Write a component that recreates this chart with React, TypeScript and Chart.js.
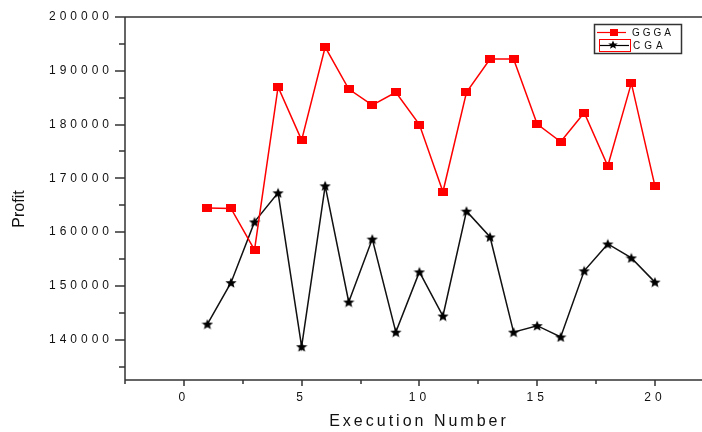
import React, { useEffect, useRef } from "react";
import { Chart, registerables } from "chart.js";

Chart.register(...registerables);

// ---- data ----
const executions = [1, 2, 3, 4, 5, 6, 7, 8, 9, 10, 11, 12, 13, 14, 15, 16, 17, 18, 19, 20];
const gggaProfit = [164500, 164400, 156700, 187000, 177100, 194400, 186600, 183600, 186000, 180000,
  167500, 186000, 192200, 192200, 180100, 176800, 182200, 172300, 187700, 168600];
const cgaProfit = [142900, 150600, 161900, 167300, 138700, 168600, 147000, 158700, 141400, 152600,
  144400, 163900, 159100, 141400, 142600, 140500, 152800, 157800, 155200, 150700];
const seriesNames = ["GGGA", "CGA"];
const xMajorTicks = [0, 5, 10, 15, 20];
const xMinorTicks = [-2.5, 2.5, 7.5, 12.5, 17.5];
const yMajorTicks = [140000, 150000, 160000, 170000, 180000, 190000, 200000];
const yMinorTicks = [135000, 145000, 155000, 165000, 175000, 185000, 195000];
const xTitle = "Execution Number";
const yTitle = "Profit";

function makeRect(w: number, h: number, color: string) {
  const c = document.createElement("canvas");
  c.width = w;
  c.height = h;
  const g = c.getContext("2d")!;
  g.fillStyle = color;
  g.fillRect(0, 0, w, h);
  return c;
}

function makeStar(w: number, h: number, color: string) {
  const c = document.createElement("canvas");
  c.width = w;
  c.height = h;
  const g = c.getContext("2d")!;
  const cx = w / 2, cy = h / 2 + 0.5;
  const ro = h / 2, ri = h / 4.6;
  const sx = w / h;
  g.fillStyle = color;
  g.beginPath();
  for (let i = 0; i < 10; i++) {
    const r = i % 2 === 0 ? ro : ri;
    const a = -Math.PI / 2 + (i * Math.PI) / 5;
    const px = cx + Math.cos(a) * r * sx;
    const py = cy + Math.sin(a) * r;
    if (i === 0) g.moveTo(px, py);
    else g.lineTo(px, py);
  }
  g.closePath();
  g.fill();
  return c;
}

const FONT = "'Liberation Sans', Arial, sans-serif";

export default function App() {
  const ref = useRef<HTMLCanvasElement | null>(null);

  useEffect(() => {
    if (!ref.current) return;
    const rectImg = makeRect(10, 8, "#ff0000");
    const starImg = makeStar(12, 11, "#000000");
    const legendRect = makeRect(8, 7, "#ff0000");
    const legendStar = makeStar(10, 9, "#000000");

    const originPlugin = {
      id: "originAxes",
      beforeDraw(chart: any) {
        chart.ctx.letterSpacing = "4px";
      },
      afterDraw(chart: any) {
        const { ctx, chartArea: ca } = chart;
        const xs = chart.scales.x;
        const ys = chart.scales.y;
        ctx.save();
        ctx.letterSpacing = "0px";
        ctx.strokeStyle = "#333";
        ctx.lineWidth = 1.5;
        ctx.beginPath();
        ctx.moveTo(ca.left, ca.top);
        ctx.lineTo(ca.left, ca.bottom);
        ctx.lineTo(ca.right, ca.bottom);
        ctx.moveTo(ca.left - 10, ca.top);
        ctx.lineTo(ca.right, ca.top);
        yMajorTicks.forEach((v) => {
          const p = Math.round(ys.getPixelForValue(v));
          ctx.moveTo(ca.left - 10, p);
          ctx.lineTo(ca.left, p);
        });
        yMinorTicks.forEach((v) => {
          const p = Math.round(ys.getPixelForValue(v));
          ctx.moveTo(ca.left - 6, p);
          ctx.lineTo(ca.left, p);
        });
        xMajorTicks.forEach((v) => {
          const p = Math.round(xs.getPixelForValue(v));
          ctx.moveTo(p, ca.bottom);
          ctx.lineTo(p, ca.bottom + 6);
        });
        xMinorTicks.forEach((v) => {
          const p = Math.round(xs.getPixelForValue(v));
          ctx.moveTo(p, ca.bottom);
          ctx.lineTo(p, ca.bottom + 4);
        });
        ctx.stroke();

        // axis titles
        ctx.fillStyle = "#111";
        ctx.font = `16px ${FONT}`;
        ctx.textAlign = "center";
        ctx.textBaseline = "middle";
        ctx.letterSpacing = "3px";
        ctx.fillText(xTitle, 419, 422);
        ctx.letterSpacing = "0px";
        ctx.save();
        ctx.translate(20, 209);
        ctx.rotate(-Math.PI / 2);
        ctx.fillText(yTitle, 0, 0);
        ctx.restore();

        // legend
        ctx.strokeStyle = "#333";
        ctx.lineWidth = 1.5;
        ctx.strokeRect(594.5, 24.5, 87, 29);
        ctx.strokeStyle = "#ff0000";
        ctx.lineWidth = 1.2;
        ctx.beginPath();
        ctx.moveTo(597, 32.5);
        ctx.lineTo(626, 32.5);
        ctx.stroke();
        ctx.drawImage(legendRect, 610, 29);
        ctx.strokeStyle = "#000";
        ctx.beginPath();
        ctx.moveTo(599, 45.5);
        ctx.lineTo(629, 45.5);
        ctx.stroke();
        ctx.drawImage(legendStar, 608, 40);
        ctx.strokeStyle = "#ff0000";
        ctx.lineWidth = 1;
        ctx.strokeRect(599.5, 39.5, 31, 12);
        ctx.fillStyle = "#111";
        ctx.font = `10px ${FONT}`;
        ctx.textAlign = "left";
        ctx.textBaseline = "middle";
        ctx.letterSpacing = "3px";
        ctx.fillText(seriesNames[0], 632, 33);
        ctx.letterSpacing = "4px";
        ctx.fillText(seriesNames[1], 633, 46);
        ctx.restore();
      },
    };

    const chart = new Chart(ref.current, {
      type: "line",
      data: {
        datasets: [
          {
            label: seriesNames[0],
            data: executions.map((e, i) => ({ x: e, y: gggaProfit[i] })),
            borderColor: "#ff0000",
            backgroundColor: "#ff0000",
            borderWidth: 1.5,
            pointStyle: rectImg as any,
            pointRadius: 5,
            tension: 0,
          },
          {
            label: seriesNames[1],
            data: executions.map((e, i) => ({ x: e, y: cgaProfit[i] })),
            borderColor: "#111",
            backgroundColor: "#000",
            borderWidth: 1.5,
            pointStyle: starImg as any,
            pointRadius: 5,
            tension: 0,
          },
        ],
      },
      options: {
        animation: false,
        responsive: false,
        devicePixelRatio: 1,
        layout: { autoPadding: false, padding: { top: 17, right: 0, bottom: 0, left: 0 } },
        plugins: { legend: { display: false }, tooltip: { enabled: false } },
        scales: {
          x: {
            type: "linear",
            position: "bottom",
            min: -2.5,
            max: 22,
            grid: { display: false, drawTicks: false },
            border: { display: false },
            afterBuildTicks: (s: any) => {
              s.ticks = xMajorTicks.map((v) => ({ value: v }));
            },
            ticks: {
              autoSkip: false,
              maxRotation: 0,
              padding: 10,
              color: "#111",
              font: { family: FONT, size: 12 },
            },
            afterFit: (s: any) => {
              s.height = 52;
              s.paddingRight = 0;
              s.paddingLeft = 0;
            },
          },
          y: {
            type: "linear",
            min: 132500,
            max: 200000,
            grid: { display: false, drawTicks: false },
            border: { display: false },
            afterBuildTicks: (s: any) => {
              s.ticks = yMajorTicks.map((v) => ({ value: v }));
            },
            ticks: {
              padding: 12,
              color: "#111",
              font: { family: FONT, size: 12 },
              callback: (v: any) => String(v),
            },
            afterFit: (s: any) => {
              s.width = 125;
              s.paddingTop = 0;
              s.paddingBottom = 0;
            },
          },
        },
      },
      plugins: [originPlugin],
    });
    return () => chart.destroy();
  }, []);

  return (
    <div style={{ position: "absolute", left: 0, top: 0, width: 702, height: 432, background: "#fff" }}>
      <canvas ref={ref} width={702} height={432} />
    </div>
  );
}
